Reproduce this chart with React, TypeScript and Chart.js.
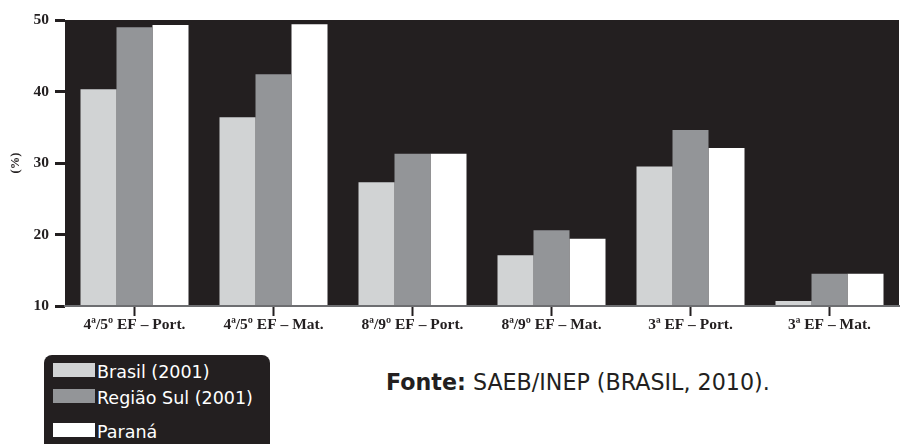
import React, { useEffect, useRef } from "react";
import { Chart, registerables } from "chart.js";

Chart.register(...registerables);

const categories = [
  "4ª/5º EF – Port.",
  "4ª/5º EF – Mat.",
  "8ª/9º EF – Port.",
  "8ª/9º EF – Mat.",
  "3ª EF – Port.",
  "3ª EF – Mat.",
];
const seriesNames = ["Brasil (2001)", "Região Sul (2001)", "Paraná"];
const brasil = [40.3, 36.4, 27.3, 17.1, 29.5, 10.7];
const regiaoSul = [49.0, 42.4, 31.3, 20.6, 34.6, 14.5];
const parana = [49.3, 49.4, 31.3, 19.4, 32.1, 14.5];
const yMin = 10;
const yMax = 50;
const yStep = 10;
const yTitle = "(%)";
const sourceBold = "Fonte:";
const sourceText = " SAEB/INEP (BRASIL, 2010).";

const seriesColors = ["#d1d3d4", "#939598", "#ffffff"];
const dark = "#231f20";

const plotBg = {
  id: "plotBg",
  beforeDraw(chart: any) {
    const { ctx, chartArea } = chart;
    if (!chartArea) return;
    ctx.save();
    ctx.fillStyle = dark;
    ctx.fillRect(chartArea.left, chartArea.top, chartArea.right - chartArea.left, chartArea.bottom - chartArea.top);
    ctx.restore();
  },
};

export default function App() {
  const ref = useRef<HTMLCanvasElement | null>(null);

  useEffect(() => {
    if (!ref.current) return;
    const values = [brasil, regiaoSul, parana];
    const chart = new Chart(ref.current, {
      type: "bar",
      data: {
        labels: categories,
        datasets: seriesNames.map((name, i) => ({
          label: name,
          data: values[i],
          backgroundColor: seriesColors[i],
          borderWidth: 0,
          barPercentage: 1,
          categoryPercentage: 0.777,
        })),
      },
      options: {
        responsive: false,
        animation: false,
        devicePixelRatio: 1,
        layout: { padding: { top: 20, right: 2, left: 0, bottom: 0 } },
        plugins: {
          legend: { display: false },
          tooltip: { enabled: false },
        },
        scales: {
          x: {
            grid: {
              offset: false,
              drawOnChartArea: false,
              drawTicks: true,
              tickLength: 10,
              tickWidth: 2,
              tickColor: dark,
              z: 1,
            },
            border: { display: true, color: "#6d6e71", width: 2, z: 1 },
            ticks: {
              color: dark,
              padding: 0,
              maxRotation: 0,
              font: { family: "'Liberation Serif', serif", size: 15.5, weight: "bold" },
            },
            afterFit(scale: any) {
              scale.height = 34;
            },
          },
          y: {
            min: yMin,
            max: yMax,
            grid: {
              drawOnChartArea: false,
              tickLength: 10,
              tickWidth: 3,
              tickColor: dark,
            },
            border: { display: false },
            ticks: {
              stepSize: yStep,
              color: dark,
              padding: 6,
              font: { family: "'Liberation Serif', serif", size: 15.5, weight: "bold" },
            },
            title: {
              display: true,
              text: yTitle,
              color: dark,
              padding: { top: 8, bottom: 0 },
              font: { family: "'Liberation Serif', serif", size: 12.5, weight: "bold" },
            },
            afterFit(scale: any) {
              scale.width = 65;
            },
          },
        },
      },
      plugins: [plotBg],
    });
    return () => chart.destroy();
  }, []);

  const legendTops = [8, 34, 68];

  return (
    <div style={{ position: "absolute", left: 0, top: 0, width: 901, height: 444, background: "#ffffff", overflow: "hidden" }}>
      <canvas ref={ref} width={901} height={340} style={{ position: "absolute", left: 0, top: 0 }} />
      <div
        style={{
          position: "absolute",
          left: 44,
          top: 355,
          width: 226,
          height: 89,
          background: dark,
          borderRadius: "8px 8px 0 0",
        }}
      >
        {seriesNames.map((name, i) => (
          <div key={name} style={{ position: "absolute", left: 9, top: legendTops[i], height: 14 }}>
            <div style={{ position: "absolute", left: 0, top: 0, width: 42, height: 14, background: seriesColors[i] }} />
            <div
              style={{
                position: "absolute",
                left: 44,
                top: 1.5,
                whiteSpace: "nowrap",
                color: "#ffffff",
                fontFamily: "'DejaVu Sans', sans-serif",
                fontSize: 17.5,
                lineHeight: "14px",
              }}
            >
              {name}
            </div>
          </div>
        ))}
      </div>
      <div
        style={{
          position: "absolute",
          left: 386,
          top: 371,
          whiteSpace: "nowrap",
          color: dark,
          fontFamily: "'DejaVu Sans', sans-serif",
          fontSize: 22.2,
          lineHeight: "22px",
        }}
      >
        <span style={{ fontWeight: "bold" }}>{sourceBold}</span>
        {sourceText}
      </div>
    </div>
  );
}
